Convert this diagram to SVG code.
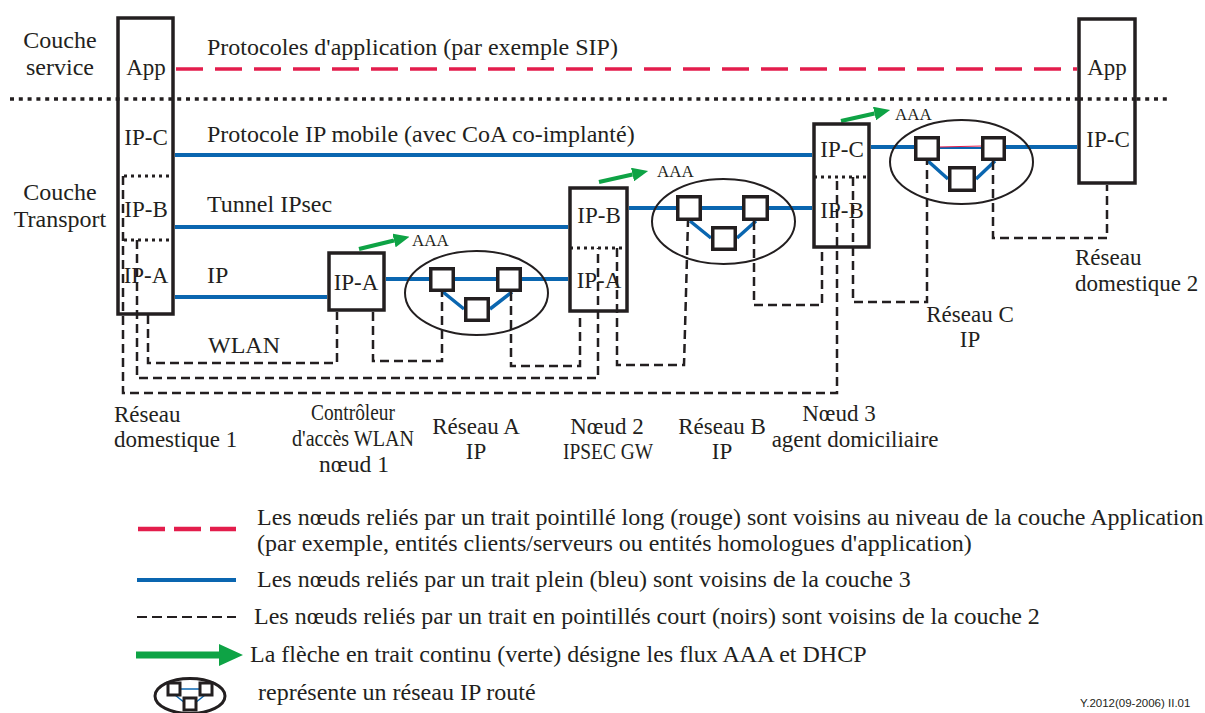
<svg xmlns="http://www.w3.org/2000/svg" width="1205" height="713" viewBox="0 0 1205 713">
  <style>
    .t { font-family: "Liberation Serif", "Times New Roman", serif; fill: #231f20; }
    .f24 { font-size: 24px; }
    .f23 { font-size: 23px; }
    .aaa { font-size: 17px; }
    .mid { text-anchor: middle; }
    .box { fill: #ffffff; stroke: #231f20; stroke-width: 3.5; }
    .frame { fill: none; stroke: #231f20; stroke-width: 3.5; }
    .sq { fill: #ffffff; stroke: #231f20; stroke-width: 3.5; }
    .net { fill: none; stroke: #231f20; stroke-width: 2; }
    .l3 { fill: none; stroke: #0a66b0; stroke-width: 4; }
    .l3d { fill: none; stroke: #0a66b0; stroke-width: 3.5; }
    .l2 { fill: none; stroke: #231f20; stroke-width: 2.5; stroke-dasharray: 9 5; }
    .dot { fill: none; stroke: #231f20; stroke-width: 3; stroke-dasharray: 3 4; }
    .sep { fill: none; stroke: #231f20; stroke-width: 3.5; stroke-dasharray: 4 4.8; }
    .app { fill: none; stroke: #e31d4c; stroke-width: 3.5; stroke-dasharray: 27 12; }
    .aaaflow { fill: none; stroke: #0ea345; stroke-width: 4; marker-end: url(#head); }
  </style>
  <defs>
    <marker id="head" markerUnits="userSpaceOnUse" markerWidth="16" markerHeight="14" viewBox="0 0 16 14" refX="0" refY="7" orient="auto">
      <path d="M0,0 L16,7 L0,14 z" fill="#0ea345"/>
    </marker>
  </defs>

  <rect width="1205" height="713" fill="#ffffff"/>

  <!-- layer names and the service / transport boundary -->
  <g id="layers">
    <text class="t f24 mid" x="60" y="48">Couche</text>
    <text class="t f24 mid" x="60" y="75">service</text>
    <text class="t f24 mid" x="60" y="200">Couche</text>
    <text class="t f24 mid" x="60" y="227">Transport</text>
    <line class="sep" x1="10" y1="99" x2="1168" y2="99"/>
  </g>

  <!-- link labels -->
  <g id="link-labels">
    <text class="t f24" x="207" y="55">Protocoles d'application (par exemple SIP)</text>
    <text class="t f24" x="207" y="142">Protocole IP mobile (avec CoA co-implanté)</text>
    <text class="t f24" x="207" y="212">Tunnel IPsec</text>
    <text class="t f24" x="207" y="283">IP</text>
    <text class="t f24" x="208" y="353">WLAN</text>
  </g>

  <!-- connectors -->
  <g id="connectors">
    <!-- application layer -->
    <line class="app" x1="176" y1="69" x2="1077" y2="69"/>
    <!-- layer 3 -->
    <line class="l3" x1="175" y1="155" x2="812" y2="155"/>
    <line class="l3" x1="175" y1="227" x2="568" y2="227"/>
    <line class="l3" x1="175" y1="297" x2="327" y2="297"/>
    <line class="l3" x1="386" y1="279" x2="568" y2="279"/>
    <line class="l3" x1="629" y1="208" x2="812" y2="208"/>
    <line class="l3" x1="871" y1="147" x2="916" y2="147"/>
    <line class="l3" x1="1004" y1="147" x2="1077" y2="147"/>
    <line x1="938" y1="148" x2="983" y2="148" stroke="#0a66b0" stroke-width="2"/>
    <line x1="938" y1="147" x2="983" y2="146" stroke="#e31d4c" stroke-width="1"/>
    <!-- routed network internals -->
    <path class="l3d" d="M443,292 L464,309 M512,292 L490,309"/>
    <path class="l3d" d="M690,221 L711,238 M756,221 L737,238"/>
    <path class="l3d" d="M928,161 L948,179 M995,161 L976,179"/>
    <!-- layer 2 -->
    <path class="l2" d="M148,315 V363 H337 V312"/>
    <path class="l2" d="M137,240 V378 H598 V248"/>
    <path class="l2" d="M123,176 V393 H837 V177"/>
    <path class="l2" d="M373,312 V361 H442 V292"/>
    <path class="l2" d="M511,292 V366 H580 V313"/>
    <path class="l2" d="M617,248 V365 H684 L688,221"/>
    <path class="l2" d="M754,221 V305 H822 V249"/>
    <path class="l2" d="M853,177 V302 H927 V161"/>
    <path class="l2" d="M993,161 V238 H1107 V185"/>
    <!-- AAA flows -->
    <line class="aaaflow" x1="359" y1="249" x2="394" y2="240.5"/>
    <line class="aaaflow" x1="599" y1="182" x2="632.5" y2="174.5"/>
    <line class="aaaflow" x1="841" y1="121" x2="874.5" y2="113.5"/>
    <text class="t aaa" x="412" y="246">AAA</text>
    <text class="t aaa" x="657" y="177">AAA</text>
    <text class="t aaa" x="895" y="120">AAA</text>
  </g>

  <!-- home network 1 (mobile terminal stack) -->
  <g id="home1">
    <rect class="frame" x="118" y="18" width="55" height="296"/>
    <line class="dot" x1="124" y1="176" x2="172" y2="176"/>
    <line class="dot" x1="124" y1="240" x2="172" y2="240"/>
    <text class="t f23 mid" x="146" y="75">App</text>
    <text class="t f23 mid" x="146" y="145">IP-C</text>
    <text class="t f23 mid" x="146" y="217">IP-B</text>
    <text class="t f23 mid" x="146" y="283">IP-A</text>
  </g>

  <!-- WLAN access controller, node 1 -->
  <g id="node1">
    <rect class="box" x="329" y="253" width="55" height="57"/>
    <text class="t f23 mid" x="356" y="290">IP-A</text>
  </g>

  <!-- IP network A -->
  <g id="netA">
    <ellipse class="net" cx="476.5" cy="293" rx="71.5" ry="42"/>
    <rect class="sq" x="430.75" y="268.75" width="22.5" height="21.5"/>
    <rect class="sq" x="497.75" y="268.75" width="22.5" height="21.5"/>
    <rect class="sq" x="465.75" y="298.75" width="22.5" height="21.5"/>
  </g>

  <!-- node 2, IPsec gateway -->
  <g id="node2">
    <rect class="frame" x="570" y="188" width="57" height="123"/>
    <line class="dot" x1="570" y1="248" x2="627" y2="248"/>
    <text class="t f23 mid" x="599" y="223">IP-B</text>
    <text class="t f23 mid" x="599" y="288">IP-A</text>
  </g>

  <!-- IP network B -->
  <g id="netB">
    <ellipse class="net" cx="723.5" cy="221.5" rx="71.5" ry="42.5"/>
    <rect class="sq" x="677.75" y="196.75" width="22.5" height="22.5"/>
    <rect class="sq" x="743.75" y="196.75" width="23.5" height="22.5"/>
    <rect class="sq" x="712.75" y="227.75" width="22.5" height="21.5"/>
  </g>

  <!-- node 3, home agent -->
  <g id="node3">
    <rect class="frame" x="814" y="124" width="55" height="123"/>
    <line class="dot" x1="814" y1="177" x2="869" y2="177"/>
    <text class="t f23 mid" x="842" y="157">IP-C</text>
    <text class="t f23 mid" x="842" y="218">IP-B</text>
  </g>

  <!-- IP network C -->
  <g id="netC">
    <ellipse class="net" cx="961.5" cy="162" rx="71.5" ry="42"/>
    <rect class="sq" x="915.75" y="137.75" width="22.5" height="21.5"/>
    <rect class="sq" x="982.75" y="137.75" width="21.5" height="21.5"/>
    <rect class="sq" x="949.75" y="167.75" width="24.5" height="22.5"/>
  </g>

  <!-- home network 2 (correspondent stack) -->
  <g id="home2">
    <rect class="box" x="1079" y="19" width="56" height="164"/>
    <line class="sep" x1="1079" y1="99" x2="1135" y2="99"/>
    <text class="t f23 mid" x="1107" y="75">App</text>
    <text class="t f23 mid" x="1108" y="147">IP-C</text>
  </g>

  <!-- element names -->
  <g id="names">
    <text class="t f23" x="114" y="422">Réseau</text>
    <text class="t f23" x="114" y="447">domestique 1</text>
    <text class="t f23" x="311" y="420" textLength="84" lengthAdjust="spacingAndGlyphs">Contrôleur</text>
    <text class="t f23" x="292" y="446" textLength="122" lengthAdjust="spacingAndGlyphs">d'accès WLAN</text>
    <text class="t f23" x="319" y="472" textLength="70" lengthAdjust="spacingAndGlyphs">nœud 1</text>
    <text class="t f23 mid" x="476" y="434">Réseau A</text>
    <text class="t f23 mid" x="476" y="459">IP</text>
    <text class="t f23 mid" x="607" y="434">Nœud 2</text>
    <text class="t f23" x="563" y="459" textLength="90" lengthAdjust="spacingAndGlyphs">IPSEC GW</text>
    <text class="t f23 mid" x="722" y="434">Réseau B</text>
    <text class="t f23 mid" x="722" y="459">IP</text>
    <text class="t f23 mid" x="839" y="421">Nœud 3</text>
    <text class="t f23 mid" x="855" y="447">agent domiciliaire</text>
    <text class="t f23 mid" x="970" y="322">Réseau C</text>
    <text class="t f23 mid" x="970" y="347">IP</text>
    <text class="t f23" x="1075" y="265">Réseau</text>
    <text class="t f23" x="1075" y="291">domestique 2</text>
  </g>

  <!-- legend -->
  <g id="legend">
    <line x1="138" y1="529" x2="236" y2="529" stroke="#e31d4c" stroke-width="4.5" stroke-dasharray="27 9"/>
    <text class="t f24" x="257" y="525">Les nœuds reliés par un trait pointillé long (rouge) sont voisins au niveau de la couche Application</text>
    <text class="t f24" x="257" y="551">(par exemple, entités clients/serveurs ou entités homologues d'application)</text>
    <line x1="137" y1="580" x2="236" y2="580" stroke="#0a66b0" stroke-width="4"/>
    <text class="t f24" x="257" y="587">Les nœuds reliés par un trait plein (bleu) sont voisins de la couche 3</text>
    <line x1="137" y1="617" x2="236" y2="617" stroke="#231f20" stroke-width="2" stroke-dasharray="10 5"/>
    <text class="t f24" x="254" y="624">Les nœuds reliés par un trait en pointillés court (noirs) sont voisins de la couche 2</text>
    <path d="M136,651.5 H219 V644 L243,655 L219,666 V658.5 H136 Z" fill="#0ea345"/>
    <text class="t f24" x="250" y="662">La flèche en trait continu (verte) désigne les flux AAA et DHCP</text>
    <g id="legend-net">
      <ellipse cx="190" cy="696" rx="35" ry="17.5" fill="none" stroke="#231f20" stroke-width="3"/>
      <line x1="180" y1="689" x2="200" y2="689" stroke="#0a66b0" stroke-width="1.5"/>
      <path d="M175,695 L185,703 M205,695 L195,703" stroke="#0a66b0" stroke-width="1.5" fill="none"/>
      <rect x="168" y="683" width="12" height="12" fill="#ffffff" stroke="#231f20" stroke-width="3"/>
      <rect x="200" y="683" width="12" height="12" fill="#ffffff" stroke="#231f20" stroke-width="3"/>
      <rect x="184" y="698" width="12" height="12" fill="#ffffff" stroke="#231f20" stroke-width="3"/>
    </g>
    <text class="t f24" x="258" y="700">représente un réseau IP routé</text>
    <text x="1080" y="707" font-family="'Liberation Sans', Arial, sans-serif" font-size="11.5" fill="#231f20">Y.2012(09-2006)  II.01</text>
  </g>
</svg>
